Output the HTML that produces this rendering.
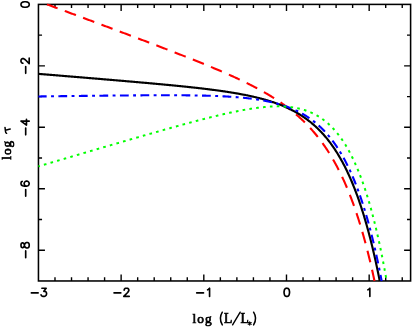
<!DOCTYPE html>
<html><head><meta charset="utf-8"><style>
html,body{margin:0;padding:0;background:#fff;}
svg{display:block}
.al{font-family:"Liberation Serif",serif;font-size:13.3px;fill:#000;stroke:#000;stroke-width:0.7px}
.cap{font-size:14.6px}
.al,.al text{filter:grayscale(1)}
</style></head><body>
<svg width="412" height="327" viewBox="0 0 412 327">
<rect width="412" height="327" fill="#fff"/>
<rect x="38.45" y="4.4" width="372.15000000000003" height="276.57" fill="none" stroke="#000" stroke-width="1.55"/>
<path d="M54.99,280.97 v-3.6 M54.99,4.40 v3.6 M71.52,280.97 v-3.6 M71.52,4.40 v3.6 M88.06,280.97 v-3.6 M88.06,4.40 v3.6 M104.59,280.97 v-3.6 M104.59,4.40 v3.6 M121.13,280.97 v-6.5 M121.13,4.40 v6.5 M137.67,280.97 v-3.6 M137.67,4.40 v3.6 M154.20,280.97 v-3.6 M154.20,4.40 v3.6 M170.74,280.97 v-3.6 M170.74,4.40 v3.6 M187.27,280.97 v-3.6 M187.27,4.40 v3.6 M203.81,280.97 v-6.5 M203.81,4.40 v6.5 M220.35,280.97 v-3.6 M220.35,4.40 v3.6 M236.88,280.97 v-3.6 M236.88,4.40 v3.6 M253.42,280.97 v-3.6 M253.42,4.40 v3.6 M269.95,280.97 v-3.6 M269.95,4.40 v3.6 M286.49,280.97 v-6.5 M286.49,4.40 v6.5 M303.03,280.97 v-3.6 M303.03,4.40 v3.6 M319.56,280.97 v-3.6 M319.56,4.40 v3.6 M336.10,280.97 v-3.6 M336.10,4.40 v3.6 M352.63,280.97 v-3.6 M352.63,4.40 v3.6 M369.17,280.97 v-6.5 M369.17,4.40 v6.5 M385.71,280.97 v-3.6 M385.71,4.40 v3.6 M402.24,280.97 v-3.6 M402.24,4.40 v3.6 M38.45,35.13 h3.6 M410.60,35.13 h-3.6 M38.45,65.86 h6.5 M410.60,65.86 h-6.5 M38.45,96.59 h3.6 M410.60,96.59 h-3.6 M38.45,127.32 h6.5 M410.60,127.32 h-6.5 M38.45,158.05 h3.6 M410.60,158.05 h-3.6 M38.45,188.78 h6.5 M410.60,188.78 h-6.5 M38.45,219.51 h3.6 M410.60,219.51 h-3.6 M38.45,250.24 h6.5 M410.60,250.24 h-6.5" stroke="#000" stroke-width="1.4" fill="none"/>
<g fill="none" stroke-width="2.1" stroke-linecap="butt" stroke-linejoin="round">
<path d="M47.09,4.40 L47.13,4.42 L47.75,4.65 L48.37,4.88 L48.99,5.11 L49.61,5.34 L50.23,5.57 L50.85,5.80 L51.47,6.03 L52.09,6.26 L52.71,6.49 L53.33,6.72 L53.95,6.96 L54.57,7.19 L55.19,7.42 L55.81,7.65 L56.43,7.88 L57.05,8.11 L57.67,8.34 L58.29,8.57 L58.91,8.80 L59.53,9.03 L60.15,9.26 L60.77,9.50 L61.39,9.73 L62.01,9.96 L62.63,10.19 L63.25,10.42 L63.87,10.65 L64.49,10.88 L65.11,11.11 L65.73,11.34 L66.35,11.57 L66.97,11.80 L67.59,12.04 L68.21,12.27 L68.83,12.50 L69.46,12.73 L70.08,12.96 L70.70,13.19 L71.32,13.42 L71.94,13.65 L72.56,13.88 L73.18,14.12 L73.80,14.35 L74.42,14.58 L75.04,14.81 L75.66,15.04 L76.28,15.27 L76.90,15.50 L77.52,15.73 L78.14,15.96 L78.76,16.20 L79.38,16.43 L80.00,16.66 L80.62,16.89 L81.24,17.12 L81.86,17.35 L82.48,17.58 L83.10,17.81 L83.72,18.05 L84.34,18.28 L84.96,18.51 L85.58,18.74 L86.20,18.97 L86.82,19.20 L87.44,19.43 L88.06,19.66 L88.68,19.90 L89.30,20.13 L89.92,20.36 L90.54,20.59 L91.16,20.82 L91.78,21.05 L92.40,21.28 L93.02,21.52 L93.64,21.75 L94.26,21.98 L94.88,22.21 L95.50,22.44 L96.12,22.67 L96.74,22.91 L97.36,23.14 L97.98,23.37 L98.60,23.60 L99.22,23.83 L99.84,24.06 L100.46,24.30 L101.08,24.53 L101.70,24.76 L102.32,24.99 L102.94,25.22 L103.56,25.46 L104.18,25.69 L104.80,25.92 L105.42,26.15 L106.04,26.38 L106.66,26.61 L107.28,26.85 L107.90,27.08 L108.52,27.31 L109.14,27.54 L109.76,27.78 L110.38,28.01 L111.00,28.24 L111.62,28.47 L112.24,28.70 L112.86,28.94 L113.48,29.17 L114.10,29.40 L114.72,29.63 L115.34,29.87 L115.96,30.10 L116.58,30.33 L117.20,30.56 L117.82,30.80 L118.44,31.03 L119.06,31.26 L119.68,31.49 L120.30,31.73 L120.92,31.96 L121.54,32.19 L122.16,32.42 L122.78,32.66 L123.40,32.89 L124.02,33.12 L124.64,33.36 L125.26,33.59 L125.88,33.82 L126.50,34.06 L127.12,34.29 L127.74,34.52 L128.36,34.76 L128.98,34.99 L129.60,35.22 L130.22,35.46 L130.84,35.69 L131.47,35.92 L132.09,36.16 L132.71,36.39 L133.33,36.62 L133.95,36.86 L134.57,37.09 L135.19,37.32 L135.81,37.56 L136.43,37.79 L137.05,38.03 L137.67,38.26 L138.29,38.50 L138.91,38.73 L139.53,38.96 L140.15,39.20 L140.77,39.43 L141.39,39.67 L142.01,39.90 L142.63,40.14 L143.25,40.37 L143.87,40.61 L144.49,40.84 L145.11,41.08 L145.73,41.31 L146.35,41.55 L146.97,41.78 L147.59,42.02 L148.21,42.25 L148.83,42.49 L149.45,42.72 L150.07,42.96 L150.69,43.19 L151.31,43.43 L151.93,43.66 L152.55,43.90 L153.17,44.14 L153.79,44.37 L154.41,44.61 L155.03,44.85 L155.65,45.08 L156.27,45.32 L156.89,45.56 L157.51,45.79 L158.13,46.03 L158.75,46.27 L159.37,46.50 L159.99,46.74 L160.61,46.98 L161.23,47.22 L161.85,47.45 L162.47,47.69 L163.09,47.93 L163.71,48.17 L164.33,48.40 L164.95,48.64 L165.57,48.88 L166.19,49.12 L166.81,49.36 L167.43,49.60 L168.05,49.84 L168.67,50.07 L169.29,50.31 L169.91,50.55 L170.53,50.79 L171.15,51.03 L171.77,51.27 L172.39,51.51 L173.01,51.75 L173.63,51.99 L174.25,52.23 L174.87,52.47 L175.49,52.71 L176.11,52.96 L176.73,53.20 L177.35,53.44 L177.97,53.68 L178.59,53.92 L179.21,54.16 L179.83,54.41 L180.45,54.65 L181.07,54.89 L181.69,55.13 L182.31,55.38 L182.93,55.62 L183.55,55.86 L184.17,56.11 L184.79,56.35 L185.41,56.60 L186.03,56.84 L186.65,57.08 L187.27,57.33 L187.89,57.57 L188.51,57.82 L189.13,58.07 L189.75,58.31 L190.37,58.56 L190.99,58.80 L191.61,59.05 L192.23,59.30 L192.85,59.55 L193.48,59.79 L194.10,60.04 L194.72,60.29 L195.34,60.54 L195.96,60.79 L196.58,61.04 L197.20,61.29 L197.82,61.53 L198.44,61.78 L199.06,62.04 L199.68,62.29 L200.30,62.54 L200.92,62.79 L201.54,63.04 L202.16,63.29 L202.78,63.55 L203.40,63.80 L204.02,64.05 L204.64,64.31 L205.26,64.56 L205.88,64.82 L206.50,65.07 L207.12,65.33 L207.74,65.58 L208.36,65.84 L208.98,66.10 L209.60,66.35 L210.22,66.61 L210.84,66.87 L211.46,67.13 L212.08,67.39 L212.70,67.65 L213.32,67.91 L213.94,68.17 L214.56,68.43 L215.18,68.69 L215.80,68.95 L216.42,69.22 L217.04,69.48 L217.66,69.74 L218.28,70.01 L218.90,70.27 L219.52,70.54 L220.14,70.81 L220.76,71.07 L221.38,71.34 L222.00,71.61 L222.62,71.88 L223.24,72.15 L223.86,72.42 L224.48,72.69 L225.10,72.96 L225.72,73.23 L226.34,73.51 L226.96,73.78 L227.58,74.06 L228.20,74.33 L228.82,74.61 L229.44,74.88 L230.06,75.16 L230.68,75.44 L231.30,75.72 L231.92,76.00 L232.54,76.28 L233.16,76.56 L233.78,76.85 L234.40,77.13 L235.02,77.42 L235.64,77.70 L236.26,77.99 L236.88,78.28 L237.50,78.57 L238.12,78.86 L238.74,79.15 L239.36,79.44 L239.98,79.73 L240.60,80.03 L241.22,80.32 L241.84,80.62 L242.46,80.92 L243.08,81.21 L243.70,81.51 L244.32,81.82 L244.94,82.12 L245.56,82.42 L246.18,82.73 L246.80,83.03 L247.42,83.34 L248.04,83.65 L248.66,83.96 L249.28,84.27 L249.90,84.58 L250.52,84.90 L251.14,85.21 L251.76,85.53 L252.38,85.85 L253.00,86.17 L253.62,86.49 L254.24,86.82 L254.86,87.14 L255.49,87.47 L256.11,87.80 L256.73,88.13 L257.35,88.46 L257.97,88.79 L258.59,89.13 L259.21,89.46 L259.83,89.80 L260.45,90.15 L261.07,90.49 L261.69,90.83 L262.31,91.18 L262.93,91.53 L263.55,91.88 L264.17,92.23 L264.79,92.59 L265.41,92.95 L266.03,93.31 L266.65,93.67 L267.27,94.03 L267.89,94.40 L268.51,94.77 L269.13,95.14 L269.75,95.51 L270.37,95.89 L270.99,96.27 L271.61,96.65 L272.23,97.03 L272.85,97.42 L273.47,97.81 L274.09,98.20 L274.71,98.60 L275.33,99.00 L275.95,99.40 L276.57,99.80 L277.19,100.21 L277.81,100.62 L278.43,101.03 L279.05,101.45 L279.67,101.87 L280.29,102.29 L280.91,102.71 L281.53,103.14 L282.15,103.58 L282.77,104.01 L283.39,104.45 L284.01,104.90 L284.63,105.34 L285.25,105.80 L285.87,106.25 L286.49,106.71 L287.11,107.17 L287.73,107.64 L288.35,108.11 L288.97,108.59 L289.59,109.07 L290.21,109.55 L290.83,110.04 L291.45,110.53 L292.07,111.03 L292.69,111.53 L293.31,112.04 L293.93,112.55 L294.55,113.06 L295.17,113.59 L295.79,114.11 L296.41,114.64 L297.03,115.18 L297.65,115.72 L298.27,116.27 L298.89,116.82 L299.51,117.38 L300.13,117.95 L300.75,118.52 L301.37,119.09 L301.99,119.68 L302.61,120.27 L303.23,120.86 L303.85,121.46 L304.47,122.07 L305.09,122.68 L305.71,123.30 L306.33,123.93 L306.95,124.57 L307.57,125.21 L308.19,125.86 L308.81,126.51 L309.43,127.18 L310.05,127.85 L310.67,128.52 L311.29,129.21 L311.91,129.91 L312.53,130.61 L313.15,131.32 L313.77,132.04 L314.39,132.77 L315.01,133.50 L315.63,134.25 L316.25,135.00 L316.87,135.76 L317.50,136.54 L318.12,137.32 L318.74,138.11 L319.36,138.91 L319.98,139.72 L320.60,140.54 L321.22,141.37 L321.84,142.22 L322.46,143.07 L323.08,143.93 L323.70,144.81 L324.32,145.69 L324.94,146.59 L325.56,147.50 L326.18,148.42 L326.80,149.35 L327.42,150.30 L328.04,151.25 L328.66,152.22 L329.28,153.21 L329.90,154.20 L330.52,155.21 L331.14,156.23 L331.76,157.27 L332.38,158.32 L333.00,159.39 L333.62,160.46 L334.24,161.56 L334.86,162.67 L335.48,163.79 L336.10,164.93 L336.72,166.09 L337.34,167.26 L337.96,168.45 L338.58,169.65 L339.20,170.88 L339.82,172.12 L340.44,173.37 L341.06,174.65 L341.68,175.94 L342.30,177.25 L342.92,178.58 L343.54,179.93 L344.16,181.30 L344.78,182.69 L345.40,184.10 L346.02,185.53 L346.64,186.98 L347.26,188.45 L347.88,189.95 L348.50,191.46 L349.12,193.00 L349.74,194.56 L350.36,196.14 L350.98,197.75 L351.60,199.38 L352.22,201.04 L352.84,202.72 L353.46,204.42 L354.08,206.16 L354.70,207.91 L355.32,209.70 L355.94,211.51 L356.56,213.35 L357.18,215.21 L357.80,217.11 L358.42,219.03 L359.04,220.99 L359.66,222.97 L360.28,224.99 L360.90,227.03 L361.52,229.11 L362.14,231.22 L362.76,233.36 L363.38,235.54 L364.00,237.74 L364.62,239.99 L365.24,242.27 L365.86,244.58 L366.48,246.93 L367.10,249.32 L367.72,251.75 L368.34,254.21 L368.96,256.71 L369.58,259.25 L370.20,261.83 L370.82,264.46 L371.44,267.12 L372.06,269.83 L372.68,272.58 L373.30,275.37 L373.92,278.21 L374.52,280.97" stroke="#ff0000" stroke-dasharray="11.9,7.665" stroke-dashoffset="0.7"/>
<path d="M38.45,73.86 L39.07,73.91 L39.69,73.97 L40.31,74.02 L40.93,74.07 L41.55,74.12 L42.17,74.17 L42.79,74.22 L43.41,74.27 L44.03,74.32 L44.65,74.37 L45.27,74.42 L45.89,74.47 L46.51,74.53 L47.13,74.58 L47.75,74.63 L48.37,74.68 L48.99,74.73 L49.61,74.78 L50.23,74.83 L50.85,74.88 L51.47,74.93 L52.09,74.98 L52.71,75.04 L53.33,75.09 L53.95,75.14 L54.57,75.19 L55.19,75.24 L55.81,75.29 L56.43,75.34 L57.05,75.39 L57.67,75.44 L58.29,75.50 L58.91,75.55 L59.53,75.60 L60.15,75.65 L60.77,75.70 L61.39,75.75 L62.01,75.80 L62.63,75.85 L63.25,75.90 L63.87,75.96 L64.49,76.01 L65.11,76.06 L65.73,76.11 L66.35,76.16 L66.97,76.21 L67.59,76.26 L68.21,76.31 L68.83,76.37 L69.46,76.42 L70.08,76.47 L70.70,76.52 L71.32,76.57 L71.94,76.62 L72.56,76.67 L73.18,76.72 L73.80,76.78 L74.42,76.83 L75.04,76.88 L75.66,76.93 L76.28,76.98 L76.90,77.03 L77.52,77.08 L78.14,77.14 L78.76,77.19 L79.38,77.24 L80.00,77.29 L80.62,77.34 L81.24,77.39 L81.86,77.44 L82.48,77.50 L83.10,77.55 L83.72,77.60 L84.34,77.65 L84.96,77.70 L85.58,77.75 L86.20,77.80 L86.82,77.86 L87.44,77.91 L88.06,77.96 L88.68,78.01 L89.30,78.06 L89.92,78.11 L90.54,78.17 L91.16,78.22 L91.78,78.27 L92.40,78.32 L93.02,78.37 L93.64,78.42 L94.26,78.48 L94.88,78.53 L95.50,78.58 L96.12,78.63 L96.74,78.68 L97.36,78.74 L97.98,78.79 L98.60,78.84 L99.22,78.89 L99.84,78.94 L100.46,79.00 L101.08,79.05 L101.70,79.10 L102.32,79.15 L102.94,79.20 L103.56,79.26 L104.18,79.31 L104.80,79.36 L105.42,79.41 L106.04,79.46 L106.66,79.52 L107.28,79.57 L107.90,79.62 L108.52,79.67 L109.14,79.73 L109.76,79.78 L110.38,79.83 L111.00,79.88 L111.62,79.94 L112.24,79.99 L112.86,80.04 L113.48,80.09 L114.10,80.15 L114.72,80.20 L115.34,80.25 L115.96,80.30 L116.58,80.36 L117.20,80.41 L117.82,80.46 L118.44,80.51 L119.06,80.57 L119.68,80.62 L120.30,80.67 L120.92,80.73 L121.54,80.78 L122.16,80.83 L122.78,80.89 L123.40,80.94 L124.02,80.99 L124.64,81.04 L125.26,81.10 L125.88,81.15 L126.50,81.20 L127.12,81.26 L127.74,81.31 L128.36,81.37 L128.98,81.42 L129.60,81.47 L130.22,81.53 L130.84,81.58 L131.47,81.63 L132.09,81.69 L132.71,81.74 L133.33,81.80 L133.95,81.85 L134.57,81.90 L135.19,81.96 L135.81,82.01 L136.43,82.07 L137.05,82.12 L137.67,82.17 L138.29,82.23 L138.91,82.28 L139.53,82.34 L140.15,82.39 L140.77,82.45 L141.39,82.50 L142.01,82.56 L142.63,82.61 L143.25,82.67 L143.87,82.72 L144.49,82.78 L145.11,82.83 L145.73,82.89 L146.35,82.94 L146.97,83.00 L147.59,83.05 L148.21,83.11 L148.83,83.16 L149.45,83.22 L150.07,83.28 L150.69,83.33 L151.31,83.39 L151.93,83.44 L152.55,83.50 L153.17,83.56 L153.79,83.61 L154.41,83.67 L155.03,83.73 L155.65,83.78 L156.27,83.84 L156.89,83.90 L157.51,83.95 L158.13,84.01 L158.75,84.07 L159.37,84.12 L159.99,84.18 L160.61,84.24 L161.23,84.30 L161.85,84.35 L162.47,84.41 L163.09,84.47 L163.71,84.53 L164.33,84.59 L164.95,84.65 L165.57,84.70 L166.19,84.76 L166.81,84.82 L167.43,84.88 L168.05,84.94 L168.67,85.00 L169.29,85.06 L169.91,85.12 L170.53,85.18 L171.15,85.24 L171.77,85.30 L172.39,85.36 L173.01,85.42 L173.63,85.48 L174.25,85.54 L174.87,85.60 L175.49,85.66 L176.11,85.72 L176.73,85.78 L177.35,85.85 L177.97,85.91 L178.59,85.97 L179.21,86.03 L179.83,86.09 L180.45,86.16 L181.07,86.22 L181.69,86.28 L182.31,86.35 L182.93,86.41 L183.55,86.47 L184.17,86.54 L184.79,86.60 L185.41,86.67 L186.03,86.73 L186.65,86.80 L187.27,86.86 L187.89,86.93 L188.51,86.99 L189.13,87.06 L189.75,87.12 L190.37,87.19 L190.99,87.26 L191.61,87.32 L192.23,87.39 L192.85,87.46 L193.48,87.53 L194.10,87.59 L194.72,87.66 L195.34,87.73 L195.96,87.80 L196.58,87.87 L197.20,87.94 L197.82,88.01 L198.44,88.08 L199.06,88.15 L199.68,88.22 L200.30,88.29 L200.92,88.37 L201.54,88.44 L202.16,88.51 L202.78,88.58 L203.40,88.66 L204.02,88.73 L204.64,88.80 L205.26,88.88 L205.88,88.95 L206.50,89.03 L207.12,89.10 L207.74,89.18 L208.36,89.26 L208.98,89.33 L209.60,89.41 L210.22,89.49 L210.84,89.57 L211.46,89.65 L212.08,89.73 L212.70,89.81 L213.32,89.89 L213.94,89.97 L214.56,90.05 L215.18,90.13 L215.80,90.21 L216.42,90.30 L217.04,90.38 L217.66,90.47 L218.28,90.55 L218.90,90.64 L219.52,90.72 L220.14,90.81 L220.76,90.90 L221.38,90.98 L222.00,91.07 L222.62,91.16 L223.24,91.25 L223.86,91.34 L224.48,91.43 L225.10,91.53 L225.72,91.62 L226.34,91.71 L226.96,91.81 L227.58,91.90 L228.20,92.00 L228.82,92.09 L229.44,92.19 L230.06,92.29 L230.68,92.39 L231.30,92.49 L231.92,92.59 L232.54,92.69 L233.16,92.79 L233.78,92.90 L234.40,93.00 L235.02,93.11 L235.64,93.21 L236.26,93.32 L236.88,93.43 L237.50,93.54 L238.12,93.65 L238.74,93.76 L239.36,93.87 L239.98,93.98 L240.60,94.10 L241.22,94.21 L241.84,94.33 L242.46,94.45 L243.08,94.57 L243.70,94.69 L244.32,94.81 L244.94,94.93 L245.56,95.05 L246.18,95.18 L246.80,95.31 L247.42,95.43 L248.04,95.56 L248.66,95.69 L249.28,95.82 L249.90,95.96 L250.52,96.09 L251.14,96.23 L251.76,96.37 L252.38,96.51 L253.00,96.65 L253.62,96.79 L254.24,96.93 L254.86,97.08 L255.49,97.22 L256.11,97.37 L256.73,97.52 L257.35,97.68 L257.97,97.83 L258.59,97.99 L259.21,98.14 L259.83,98.30 L260.45,98.46 L261.07,98.63 L261.69,98.79 L262.31,98.96 L262.93,99.13 L263.55,99.30 L264.17,99.47 L264.79,99.65 L265.41,99.83 L266.03,100.01 L266.65,100.19 L267.27,100.37 L267.89,100.56 L268.51,100.75 L269.13,100.94 L269.75,101.14 L270.37,101.33 L270.99,101.53 L271.61,101.73 L272.23,101.94 L272.85,102.14 L273.47,102.35 L274.09,102.57 L274.71,102.78 L275.33,103.00 L275.95,103.22 L276.57,103.44 L277.19,103.67 L277.81,103.90 L278.43,104.13 L279.05,104.37 L279.67,104.61 L280.29,104.85 L280.91,105.10 L281.53,105.35 L282.15,105.60 L282.77,105.86 L283.39,106.12 L284.01,106.38 L284.63,106.65 L285.25,106.92 L285.87,107.20 L286.49,107.48 L287.11,107.76 L287.73,108.05 L288.35,108.34 L288.97,108.63 L289.59,108.93 L290.21,109.24 L290.83,109.55 L291.45,109.86 L292.07,110.18 L292.69,110.50 L293.31,110.83 L293.93,111.16 L294.55,111.50 L295.17,111.84 L295.79,112.18 L296.41,112.54 L297.03,112.89 L297.65,113.26 L298.27,113.62 L298.89,114.00 L299.51,114.38 L300.13,114.76 L300.75,115.15 L301.37,115.55 L301.99,115.95 L302.61,116.36 L303.23,116.77 L303.85,117.20 L304.47,117.62 L305.09,118.06 L305.71,118.50 L306.33,118.95 L306.95,119.40 L307.57,119.86 L308.19,120.33 L308.81,120.81 L309.43,121.29 L310.05,121.78 L310.67,122.28 L311.29,122.79 L311.91,123.30 L312.53,123.83 L313.15,124.36 L313.77,124.90 L314.39,125.44 L315.01,126.00 L315.63,126.57 L316.25,127.14 L316.87,127.72 L317.50,128.32 L318.12,128.92 L318.74,129.53 L319.36,130.15 L319.98,130.78 L320.60,131.42 L321.22,132.07 L321.84,132.74 L322.46,133.41 L323.08,134.09 L323.70,134.79 L324.32,135.49 L324.94,136.21 L325.56,136.94 L326.18,137.68 L326.80,138.43 L327.42,139.20 L328.04,139.98 L328.66,140.77 L329.28,141.57 L329.90,142.39 L330.52,143.21 L331.14,144.06 L331.76,144.91 L332.38,145.79 L333.00,146.67 L333.62,147.57 L334.24,148.48 L334.86,149.41 L335.48,150.36 L336.10,151.32 L336.72,152.30 L337.34,153.29 L337.96,154.30 L338.58,155.32 L339.20,156.36 L339.82,157.42 L340.44,158.50 L341.06,159.60 L341.68,160.71 L342.30,161.84 L342.92,162.99 L343.54,164.16 L344.16,165.35 L344.78,166.56 L345.40,167.79 L346.02,169.04 L346.64,170.31 L347.26,171.60 L347.88,172.92 L348.50,174.25 L349.12,175.61 L349.74,176.99 L350.36,178.40 L350.98,179.82 L351.60,181.27 L352.22,182.75 L352.84,184.25 L353.46,185.78 L354.08,187.33 L354.70,188.91 L355.32,190.51 L355.94,192.14 L356.56,193.80 L357.18,195.49 L357.80,197.20 L358.42,198.95 L359.04,200.72 L359.66,202.53 L360.28,204.36 L360.90,206.23 L361.52,208.12 L362.14,210.05 L362.76,212.02 L363.38,214.01 L364.00,216.04 L364.62,218.11 L365.24,220.20 L365.86,222.34 L366.48,224.51 L367.10,226.72 L367.72,228.96 L368.34,231.25 L368.96,233.57 L369.58,235.93 L370.20,238.33 L370.82,240.78 L371.44,243.26 L372.06,245.79 L372.68,248.36 L373.30,250.98 L373.92,253.63 L374.54,256.34 L375.16,259.09 L375.78,261.89 L376.40,264.73 L377.02,267.63 L377.64,270.57 L378.26,273.57 L378.88,276.61 L379.50,279.71 L379.75,280.97" stroke="#000" stroke-width="2.15"/>
<path d="M38.45,96.45 L39.07,96.44 L39.69,96.43 L40.31,96.43 L40.93,96.42 L41.55,96.41 L42.17,96.40 L42.79,96.39 L43.41,96.39 L44.03,96.38 L44.65,96.37 L45.27,96.36 L45.89,96.36 L46.51,96.35 L47.13,96.34 L47.75,96.33 L48.37,96.32 L48.99,96.32 L49.61,96.31 L50.23,96.30 L50.85,96.29 L51.47,96.29 L52.09,96.28 L52.71,96.27 L53.33,96.26 L53.95,96.26 L54.57,96.25 L55.19,96.24 L55.81,96.23 L56.43,96.22 L57.05,96.22 L57.67,96.21 L58.29,96.20 L58.91,96.19 L59.53,96.19 L60.15,96.18 L60.77,96.17 L61.39,96.16 L62.01,96.16 L62.63,96.15 L63.25,96.14 L63.87,96.13 L64.49,96.13 L65.11,96.12 L65.73,96.11 L66.35,96.10 L66.97,96.09 L67.59,96.09 L68.21,96.08 L68.83,96.07 L69.46,96.06 L70.08,96.06 L70.70,96.05 L71.32,96.04 L71.94,96.03 L72.56,96.03 L73.18,96.02 L73.80,96.01 L74.42,96.00 L75.04,96.00 L75.66,95.99 L76.28,95.98 L76.90,95.98 L77.52,95.97 L78.14,95.96 L78.76,95.95 L79.38,95.95 L80.00,95.94 L80.62,95.93 L81.24,95.92 L81.86,95.92 L82.48,95.91 L83.10,95.90 L83.72,95.89 L84.34,95.89 L84.96,95.88 L85.58,95.87 L86.20,95.87 L86.82,95.86 L87.44,95.85 L88.06,95.84 L88.68,95.84 L89.30,95.83 L89.92,95.82 L90.54,95.82 L91.16,95.81 L91.78,95.80 L92.40,95.79 L93.02,95.79 L93.64,95.78 L94.26,95.77 L94.88,95.77 L95.50,95.76 L96.12,95.75 L96.74,95.75 L97.36,95.74 L97.98,95.73 L98.60,95.73 L99.22,95.72 L99.84,95.71 L100.46,95.70 L101.08,95.70 L101.70,95.69 L102.32,95.68 L102.94,95.68 L103.56,95.67 L104.18,95.66 L104.80,95.66 L105.42,95.65 L106.04,95.64 L106.66,95.64 L107.28,95.63 L107.90,95.63 L108.52,95.62 L109.14,95.61 L109.76,95.61 L110.38,95.60 L111.00,95.59 L111.62,95.59 L112.24,95.58 L112.86,95.57 L113.48,95.57 L114.10,95.56 L114.72,95.56 L115.34,95.55 L115.96,95.54 L116.58,95.54 L117.20,95.53 L117.82,95.53 L118.44,95.52 L119.06,95.51 L119.68,95.51 L120.30,95.50 L120.92,95.50 L121.54,95.49 L122.16,95.48 L122.78,95.48 L123.40,95.47 L124.02,95.47 L124.64,95.46 L125.26,95.46 L125.88,95.45 L126.50,95.45 L127.12,95.44 L127.74,95.44 L128.36,95.43 L128.98,95.42 L129.60,95.42 L130.22,95.41 L130.84,95.41 L131.47,95.40 L132.09,95.40 L132.71,95.39 L133.33,95.39 L133.95,95.38 L134.57,95.38 L135.19,95.38 L135.81,95.37 L136.43,95.37 L137.05,95.36 L137.67,95.36 L138.29,95.35 L138.91,95.35 L139.53,95.34 L140.15,95.34 L140.77,95.34 L141.39,95.33 L142.01,95.33 L142.63,95.32 L143.25,95.32 L143.87,95.32 L144.49,95.31 L145.11,95.31 L145.73,95.31 L146.35,95.30 L146.97,95.30 L147.59,95.30 L148.21,95.29 L148.83,95.29 L149.45,95.29 L150.07,95.28 L150.69,95.28 L151.31,95.28 L151.93,95.27 L152.55,95.27 L153.17,95.27 L153.79,95.27 L154.41,95.27 L155.03,95.26 L155.65,95.26 L156.27,95.26 L156.89,95.26 L157.51,95.26 L158.13,95.25 L158.75,95.25 L159.37,95.25 L159.99,95.25 L160.61,95.25 L161.23,95.25 L161.85,95.25 L162.47,95.25 L163.09,95.24 L163.71,95.24 L164.33,95.24 L164.95,95.24 L165.57,95.24 L166.19,95.24 L166.81,95.24 L167.43,95.24 L168.05,95.24 L168.67,95.24 L169.29,95.24 L169.91,95.25 L170.53,95.25 L171.15,95.25 L171.77,95.25 L172.39,95.25 L173.01,95.25 L173.63,95.25 L174.25,95.26 L174.87,95.26 L175.49,95.26 L176.11,95.26 L176.73,95.27 L177.35,95.27 L177.97,95.27 L178.59,95.27 L179.21,95.28 L179.83,95.28 L180.45,95.29 L181.07,95.29 L181.69,95.29 L182.31,95.30 L182.93,95.30 L183.55,95.31 L184.17,95.31 L184.79,95.32 L185.41,95.32 L186.03,95.33 L186.65,95.34 L187.27,95.34 L187.89,95.35 L188.51,95.36 L189.13,95.36 L189.75,95.37 L190.37,95.38 L190.99,95.39 L191.61,95.39 L192.23,95.40 L192.85,95.41 L193.48,95.42 L194.10,95.43 L194.72,95.44 L195.34,95.45 L195.96,95.46 L196.58,95.47 L197.20,95.48 L197.82,95.49 L198.44,95.50 L199.06,95.52 L199.68,95.53 L200.30,95.54 L200.92,95.55 L201.54,95.57 L202.16,95.58 L202.78,95.60 L203.40,95.61 L204.02,95.62 L204.64,95.64 L205.26,95.66 L205.88,95.67 L206.50,95.69 L207.12,95.71 L207.74,95.72 L208.36,95.74 L208.98,95.76 L209.60,95.78 L210.22,95.80 L210.84,95.82 L211.46,95.84 L212.08,95.86 L212.70,95.88 L213.32,95.90 L213.94,95.92 L214.56,95.95 L215.18,95.97 L215.80,95.99 L216.42,96.02 L217.04,96.04 L217.66,96.07 L218.28,96.09 L218.90,96.12 L219.52,96.15 L220.14,96.18 L220.76,96.20 L221.38,96.23 L222.00,96.26 L222.62,96.29 L223.24,96.33 L223.86,96.36 L224.48,96.39 L225.10,96.42 L225.72,96.46 L226.34,96.49 L226.96,96.53 L227.58,96.56 L228.20,96.60 L228.82,96.64 L229.44,96.68 L230.06,96.72 L230.68,96.76 L231.30,96.80 L231.92,96.84 L232.54,96.88 L233.16,96.93 L233.78,96.97 L234.40,97.02 L235.02,97.06 L235.64,97.11 L236.26,97.16 L236.88,97.21 L237.50,97.26 L238.12,97.31 L238.74,97.36 L239.36,97.41 L239.98,97.47 L240.60,97.52 L241.22,97.58 L241.84,97.64 L242.46,97.70 L243.08,97.76 L243.70,97.82 L244.32,97.88 L244.94,97.95 L245.56,98.01 L246.18,98.08 L246.80,98.15 L247.42,98.21 L248.04,98.28 L248.66,98.36 L249.28,98.43 L249.90,98.50 L250.52,98.58 L251.14,98.66 L251.76,98.74 L252.38,98.82 L253.00,98.90 L253.62,98.98 L254.24,99.07 L254.86,99.15 L255.49,99.24 L256.11,99.33 L256.73,99.42 L257.35,99.52 L257.97,99.61 L258.59,99.71 L259.21,99.81 L259.83,99.91 L260.45,100.01 L261.07,100.11 L261.69,100.22 L262.31,100.33 L262.93,100.44 L263.55,100.55 L264.17,100.67 L264.79,100.78 L265.41,100.90 L266.03,101.02 L266.65,101.15 L267.27,101.27 L267.89,101.40 L268.51,101.53 L269.13,101.66 L269.75,101.80 L270.37,101.94 L270.99,102.08 L271.61,102.22 L272.23,102.37 L272.85,102.51 L273.47,102.67 L274.09,102.82 L274.71,102.98 L275.33,103.14 L275.95,103.30 L276.57,103.46 L277.19,103.63 L277.81,103.80 L278.43,103.98 L279.05,104.15 L279.67,104.34 L280.29,104.52 L280.91,104.71 L281.53,104.90 L282.15,105.09 L282.77,105.29 L283.39,105.49 L284.01,105.70 L284.63,105.91 L285.25,106.12 L285.87,106.34 L286.49,106.56 L287.11,106.78 L287.73,107.01 L288.35,107.24 L288.97,107.48 L289.59,107.72 L290.21,107.96 L290.83,108.21 L291.45,108.47 L292.07,108.73 L292.69,108.99 L293.31,109.26 L293.93,109.53 L294.55,109.81 L295.17,110.09 L295.79,110.38 L296.41,110.67 L297.03,110.97 L297.65,111.28 L298.27,111.59 L298.89,111.90 L299.51,112.22 L300.13,112.55 L300.75,112.88 L301.37,113.22 L301.99,113.56 L302.61,113.91 L303.23,114.27 L303.85,114.63 L304.47,115.00 L305.09,115.37 L305.71,115.76 L306.33,116.14 L306.95,116.54 L307.57,116.94 L308.19,117.35 L308.81,117.77 L309.43,118.20 L310.05,118.63 L310.67,119.07 L311.29,119.52 L311.91,119.97 L312.53,120.44 L313.15,120.91 L313.77,121.39 L314.39,121.88 L315.01,122.37 L315.63,122.88 L316.25,123.40 L316.87,123.92 L317.50,124.45 L318.12,125.00 L318.74,125.55 L319.36,126.11 L319.98,126.69 L320.60,127.27 L321.22,127.86 L321.84,128.47 L322.46,129.08 L323.08,129.70 L323.70,130.34 L324.32,130.99 L324.94,131.65 L325.56,132.32 L326.18,133.00 L326.80,133.69 L327.42,134.40 L328.04,135.12 L328.66,135.85 L329.28,136.59 L329.90,137.35 L330.52,138.12 L331.14,138.90 L331.76,139.70 L332.38,140.51 L333.00,141.34 L333.62,142.18 L334.24,143.04 L334.86,143.91 L335.48,144.79 L336.10,145.70 L336.72,146.61 L337.34,147.55 L337.96,148.50 L338.58,149.46 L339.20,150.45 L339.82,151.45 L340.44,152.47 L341.06,153.50 L341.68,154.56 L342.30,155.63 L342.92,156.72 L343.54,157.83 L344.16,158.96 L344.78,160.11 L345.40,161.29 L346.02,162.48 L346.64,163.69 L347.26,164.92 L347.88,166.18 L348.50,167.45 L349.12,168.75 L349.74,170.07 L350.36,171.42 L350.98,172.79 L351.60,174.18 L352.22,175.60 L352.84,177.04 L353.46,178.51 L354.08,180.00 L354.70,181.52 L355.32,183.07 L355.94,184.64 L356.56,186.24 L357.18,187.87 L357.80,189.52 L358.42,191.21 L359.04,192.92 L359.66,194.67 L360.28,196.45 L360.90,198.25 L361.52,200.09 L362.14,201.96 L362.76,203.87 L363.38,205.80 L364.00,207.77 L364.62,209.78 L365.24,211.82 L365.86,213.89 L366.48,216.01 L367.10,218.16 L367.72,220.34 L368.34,222.57 L368.96,224.83 L369.58,227.13 L370.20,229.48 L370.82,231.86 L371.44,234.29 L372.06,236.76 L372.68,239.27 L373.30,241.83 L373.92,244.43 L374.54,247.07 L375.16,249.76 L375.78,252.50 L376.40,255.29 L377.02,258.13 L377.64,261.01 L378.26,263.95 L378.88,266.93 L379.50,269.97 L380.13,273.06 L380.75,276.21 L381.37,279.41 L381.66,280.97" stroke="#0000ff" stroke-dasharray="8.8,4.41,2.9,4.41" stroke-dashoffset="0.6"/>
<path d="M38.45,166.36 L39.07,166.18 L39.69,166.00 L40.31,165.81 L40.93,165.63 L41.55,165.45 L42.17,165.27 L42.79,165.08 L43.41,164.90 L44.03,164.72 L44.65,164.54 L45.27,164.36 L45.89,164.17 L46.51,163.99 L47.13,163.81 L47.75,163.63 L48.37,163.44 L48.99,163.26 L49.61,163.08 L50.23,162.90 L50.85,162.72 L51.47,162.53 L52.09,162.35 L52.71,162.17 L53.33,161.99 L53.95,161.80 L54.57,161.62 L55.19,161.44 L55.81,161.26 L56.43,161.08 L57.05,160.89 L57.67,160.71 L58.29,160.53 L58.91,160.35 L59.53,160.16 L60.15,159.98 L60.77,159.80 L61.39,159.62 L62.01,159.44 L62.63,159.25 L63.25,159.07 L63.87,158.89 L64.49,158.71 L65.11,158.53 L65.73,158.34 L66.35,158.16 L66.97,157.98 L67.59,157.80 L68.21,157.62 L68.83,157.43 L69.46,157.25 L70.08,157.07 L70.70,156.89 L71.32,156.71 L71.94,156.52 L72.56,156.34 L73.18,156.16 L73.80,155.98 L74.42,155.80 L75.04,155.61 L75.66,155.43 L76.28,155.25 L76.90,155.07 L77.52,154.89 L78.14,154.71 L78.76,154.52 L79.38,154.34 L80.00,154.16 L80.62,153.98 L81.24,153.80 L81.86,153.61 L82.48,153.43 L83.10,153.25 L83.72,153.07 L84.34,152.89 L84.96,152.71 L85.58,152.52 L86.20,152.34 L86.82,152.16 L87.44,151.98 L88.06,151.80 L88.68,151.62 L89.30,151.43 L89.92,151.25 L90.54,151.07 L91.16,150.89 L91.78,150.71 L92.40,150.53 L93.02,150.34 L93.64,150.16 L94.26,149.98 L94.88,149.80 L95.50,149.62 L96.12,149.44 L96.74,149.26 L97.36,149.08 L97.98,148.89 L98.60,148.71 L99.22,148.53 L99.84,148.35 L100.46,148.17 L101.08,147.99 L101.70,147.81 L102.32,147.62 L102.94,147.44 L103.56,147.26 L104.18,147.08 L104.80,146.90 L105.42,146.72 L106.04,146.54 L106.66,146.36 L107.28,146.18 L107.90,146.00 L108.52,145.81 L109.14,145.63 L109.76,145.45 L110.38,145.27 L111.00,145.09 L111.62,144.91 L112.24,144.73 L112.86,144.55 L113.48,144.37 L114.10,144.19 L114.72,144.01 L115.34,143.83 L115.96,143.65 L116.58,143.47 L117.20,143.28 L117.82,143.10 L118.44,142.92 L119.06,142.74 L119.68,142.56 L120.30,142.38 L120.92,142.20 L121.54,142.02 L122.16,141.84 L122.78,141.66 L123.40,141.48 L124.02,141.30 L124.64,141.12 L125.26,140.94 L125.88,140.76 L126.50,140.58 L127.12,140.40 L127.74,140.22 L128.36,140.04 L128.98,139.86 L129.60,139.68 L130.22,139.50 L130.84,139.32 L131.47,139.14 L132.09,138.97 L132.71,138.79 L133.33,138.61 L133.95,138.43 L134.57,138.25 L135.19,138.07 L135.81,137.89 L136.43,137.71 L137.05,137.53 L137.67,137.35 L138.29,137.17 L138.91,137.00 L139.53,136.82 L140.15,136.64 L140.77,136.46 L141.39,136.28 L142.01,136.10 L142.63,135.92 L143.25,135.75 L143.87,135.57 L144.49,135.39 L145.11,135.21 L145.73,135.03 L146.35,134.86 L146.97,134.68 L147.59,134.50 L148.21,134.32 L148.83,134.14 L149.45,133.97 L150.07,133.79 L150.69,133.61 L151.31,133.43 L151.93,133.26 L152.55,133.08 L153.17,132.90 L153.79,132.73 L154.41,132.55 L155.03,132.37 L155.65,132.20 L156.27,132.02 L156.89,131.84 L157.51,131.67 L158.13,131.49 L158.75,131.32 L159.37,131.14 L159.99,130.96 L160.61,130.79 L161.23,130.61 L161.85,130.44 L162.47,130.26 L163.09,130.09 L163.71,129.91 L164.33,129.74 L164.95,129.56 L165.57,129.39 L166.19,129.21 L166.81,129.04 L167.43,128.86 L168.05,128.69 L168.67,128.52 L169.29,128.34 L169.91,128.17 L170.53,128.00 L171.15,127.82 L171.77,127.65 L172.39,127.48 L173.01,127.30 L173.63,127.13 L174.25,126.96 L174.87,126.79 L175.49,126.61 L176.11,126.44 L176.73,126.27 L177.35,126.10 L177.97,125.93 L178.59,125.76 L179.21,125.58 L179.83,125.41 L180.45,125.24 L181.07,125.07 L181.69,124.90 L182.31,124.73 L182.93,124.56 L183.55,124.39 L184.17,124.22 L184.79,124.05 L185.41,123.89 L186.03,123.72 L186.65,123.55 L187.27,123.38 L187.89,123.21 L188.51,123.05 L189.13,122.88 L189.75,122.71 L190.37,122.54 L190.99,122.38 L191.61,122.21 L192.23,122.04 L192.85,121.88 L193.48,121.71 L194.10,121.55 L194.72,121.38 L195.34,121.22 L195.96,121.06 L196.58,120.89 L197.20,120.73 L197.82,120.56 L198.44,120.40 L199.06,120.24 L199.68,120.08 L200.30,119.92 L200.92,119.75 L201.54,119.59 L202.16,119.43 L202.78,119.27 L203.40,119.11 L204.02,118.95 L204.64,118.79 L205.26,118.63 L205.88,118.48 L206.50,118.32 L207.12,118.16 L207.74,118.00 L208.36,117.85 L208.98,117.69 L209.60,117.54 L210.22,117.38 L210.84,117.23 L211.46,117.07 L212.08,116.92 L212.70,116.76 L213.32,116.61 L213.94,116.46 L214.56,116.31 L215.18,116.16 L215.80,116.01 L216.42,115.86 L217.04,115.71 L217.66,115.56 L218.28,115.41 L218.90,115.26 L219.52,115.11 L220.14,114.97 L220.76,114.82 L221.38,114.68 L222.00,114.53 L222.62,114.39 L223.24,114.24 L223.86,114.10 L224.48,113.96 L225.10,113.82 L225.72,113.68 L226.34,113.54 L226.96,113.40 L227.58,113.26 L228.20,113.12 L228.82,112.99 L229.44,112.85 L230.06,112.72 L230.68,112.58 L231.30,112.45 L231.92,112.32 L232.54,112.18 L233.16,112.05 L233.78,111.92 L234.40,111.79 L235.02,111.67 L235.64,111.54 L236.26,111.41 L236.88,111.29 L237.50,111.16 L238.12,111.04 L238.74,110.92 L239.36,110.80 L239.98,110.68 L240.60,110.56 L241.22,110.44 L241.84,110.32 L242.46,110.21 L243.08,110.09 L243.70,109.98 L244.32,109.87 L244.94,109.76 L245.56,109.65 L246.18,109.54 L246.80,109.43 L247.42,109.33 L248.04,109.22 L248.66,109.12 L249.28,109.02 L249.90,108.92 L250.52,108.82 L251.14,108.72 L251.76,108.63 L252.38,108.53 L253.00,108.44 L253.62,108.35 L254.24,108.26 L254.86,108.17 L255.49,108.09 L256.11,108.00 L256.73,107.92 L257.35,107.84 L257.97,107.76 L258.59,107.68 L259.21,107.61 L259.83,107.53 L260.45,107.46 L261.07,107.39 L261.69,107.32 L262.31,107.26 L262.93,107.19 L263.55,107.13 L264.17,107.07 L264.79,107.01 L265.41,106.96 L266.03,106.90 L266.65,106.85 L267.27,106.80 L267.89,106.76 L268.51,106.71 L269.13,106.67 L269.75,106.63 L270.37,106.60 L270.99,106.56 L271.61,106.53 L272.23,106.50 L272.85,106.48 L273.47,106.45 L274.09,106.43 L274.71,106.41 L275.33,106.40 L275.95,106.39 L276.57,106.38 L277.19,106.37 L277.81,106.37 L278.43,106.37 L279.05,106.37 L279.67,106.38 L280.29,106.39 L280.91,106.40 L281.53,106.42 L282.15,106.44 L282.77,106.46 L283.39,106.49 L284.01,106.52 L284.63,106.55 L285.25,106.59 L285.87,106.63 L286.49,106.68 L287.11,106.73 L287.73,106.78 L288.35,106.84 L288.97,106.90 L289.59,106.97 L290.21,107.04 L290.83,107.12 L291.45,107.20 L292.07,107.28 L292.69,107.37 L293.31,107.46 L293.93,107.56 L294.55,107.66 L295.17,107.77 L295.79,107.89 L296.41,108.01 L297.03,108.13 L297.65,108.26 L298.27,108.39 L298.89,108.53 L299.51,108.68 L300.13,108.83 L300.75,108.99 L301.37,109.15 L301.99,109.32 L302.61,109.50 L303.23,109.68 L303.85,109.87 L304.47,110.06 L305.09,110.26 L305.71,110.47 L306.33,110.68 L306.95,110.91 L307.57,111.13 L308.19,111.37 L308.81,111.61 L309.43,111.86 L310.05,112.12 L310.67,112.39 L311.29,112.66 L311.91,112.94 L312.53,113.23 L313.15,113.53 L313.77,113.83 L314.39,114.15 L315.01,114.47 L315.63,114.80 L316.25,115.14 L316.87,115.49 L317.50,115.85 L318.12,116.22 L318.74,116.60 L319.36,116.99 L319.98,117.39 L320.60,117.80 L321.22,118.21 L321.84,118.64 L322.46,119.08 L323.08,119.53 L323.70,119.99 L324.32,120.47 L324.94,120.95 L325.56,121.45 L326.18,121.95 L326.80,122.47 L327.42,123.01 L328.04,123.55 L328.66,124.11 L329.28,124.68 L329.90,125.26 L330.52,125.86 L331.14,126.47 L331.76,127.09 L332.38,127.73 L333.00,128.38 L333.62,129.05 L334.24,129.73 L334.86,130.42 L335.48,131.13 L336.10,131.86 L336.72,132.60 L337.34,133.36 L337.96,134.14 L338.58,134.93 L339.20,135.74 L339.82,136.57 L340.44,137.41 L341.06,138.27 L341.68,139.15 L342.30,140.05 L342.92,140.97 L343.54,141.91 L344.16,142.86 L344.78,143.84 L345.40,144.83 L346.02,145.85 L346.64,146.89 L347.26,147.95 L347.88,149.03 L348.50,150.13 L349.12,151.25 L349.74,152.40 L350.36,153.57 L350.98,154.77 L351.60,155.98 L352.22,157.23 L352.84,158.50 L353.46,159.79 L354.08,161.11 L354.70,162.45 L355.32,163.82 L355.94,165.22 L356.56,166.65 L357.18,168.10 L357.80,169.58 L358.42,171.09 L359.04,172.63 L359.66,174.21 L360.28,175.81 L360.90,177.44 L361.52,179.10 L362.14,180.80 L362.76,182.53 L363.38,184.29 L364.00,186.09 L364.62,187.92 L365.24,189.78 L365.86,191.69 L366.48,193.62 L367.10,195.60 L367.72,197.61 L368.34,199.66 L368.96,201.75 L369.58,203.88 L370.20,206.05 L370.82,208.26 L371.44,210.51 L372.06,212.80 L372.68,215.14 L373.30,217.52 L373.92,219.95 L374.54,222.42 L375.16,224.94 L375.78,227.50 L376.40,230.11 L377.02,232.78 L377.64,235.49 L378.26,238.25 L378.88,241.06 L379.50,243.92 L380.13,246.84 L380.75,249.81 L381.37,252.84 L381.99,255.92 L382.61,259.06 L383.23,262.26 L383.85,265.52 L384.47,268.83 L385.09,272.21 L385.71,275.65 L386.33,279.15 L386.64,280.97" stroke="#00ff00" stroke-width="2" stroke-dasharray="2.65,4.222" stroke-dashoffset="1.2"/>
</g>
<g fill="none" stroke="#000" stroke-width="1.65" stroke-linecap="round" stroke-linejoin="round">
<path transform="translate(29.78,296.4)" d="M1.56,-3.51 L8.38,-3.51 M12.09,-8.19 L16.38,-8.19 L14.04,-5.07 L15.21,-5.07 L15.99,-4.68 L16.38,-4.29 L16.77,-3.12 L16.77,-2.34 L16.38,-1.17 L15.60,-0.39 L14.43,0.00 L13.26,0.00 L12.09,-0.39 L11.70,-0.78 L11.31,-1.56"/>
<path transform="translate(112.46,296.4)" d="M1.56,-3.51 L8.38,-3.51 M11.70,-6.24 L11.70,-6.63 L12.09,-7.41 L12.48,-7.80 L13.26,-8.19 L14.82,-8.19 L15.60,-7.80 L15.99,-7.41 L16.38,-6.63 L16.38,-5.85 L15.99,-5.07 L15.21,-3.90 L11.31,0.00 L16.77,0.00"/>
<path transform="translate(195.14,296.4)" d="M1.56,-3.51 L8.38,-3.51 M12.48,-6.63 L13.26,-7.02 L14.43,-8.19 L14.43,0.00"/>
<path transform="translate(282.89,296.4)" d="M3.51,-8.19 L2.34,-7.80 L1.56,-6.63 L1.17,-4.68 L1.17,-3.51 L1.56,-1.56 L2.34,-0.39 L3.51,0.00 L4.29,0.00 L5.46,-0.39 L6.24,-1.56 L6.63,-3.51 L6.63,-4.68 L6.24,-6.63 L5.46,-7.80 L4.29,-8.19 L3.51,-8.19"/>
<path transform="translate(365.57,296.4)" d="M2.34,-6.63 L3.12,-7.02 L4.29,-8.19 L4.29,0.00"/>

<path transform="translate(29.2,8.40) rotate(-90)" d="M3.51,-8.19 L2.34,-7.80 L1.56,-6.63 L1.17,-4.68 L1.17,-3.51 L1.56,-1.56 L2.34,-0.39 L3.51,0.00 L4.29,0.00 L5.46,-0.39 L6.24,-1.56 L6.63,-3.51 L6.63,-4.68 L6.24,-6.63 L5.46,-7.80 L4.29,-8.19 L3.51,-8.19"/>
<path transform="translate(29.2,74.93) rotate(-90)" d="M1.56,-3.51 L8.38,-3.51 M11.70,-6.24 L11.70,-6.63 L12.09,-7.41 L12.48,-7.80 L13.26,-8.19 L14.82,-8.19 L15.60,-7.80 L15.99,-7.41 L16.38,-6.63 L16.38,-5.85 L15.99,-5.07 L15.21,-3.90 L11.31,0.00 L16.77,0.00"/>
<path transform="translate(29.2,136.39) rotate(-90)" d="M1.56,-3.51 L8.38,-3.51 M15.21,-8.19 L11.31,-2.73 L17.16,-2.73 M15.21,-8.19 L15.21,0.00"/>
<path transform="translate(29.2,197.85) rotate(-90)" d="M1.56,-3.51 L8.38,-3.51 M16.38,-7.02 L15.99,-7.80 L14.82,-8.19 L14.04,-8.19 L12.87,-7.80 L12.09,-6.63 L11.70,-4.68 L11.70,-2.73 L12.09,-1.17 L12.87,-0.39 L14.04,0.00 L14.43,0.00 L15.60,-0.39 L16.38,-1.17 L16.77,-2.34 L16.77,-2.73 L16.38,-3.90 L15.60,-4.68 L14.43,-5.07 L14.04,-5.07 L12.87,-4.68 L12.09,-3.90 L11.70,-2.73"/>
<path transform="translate(29.2,259.31) rotate(-90)" d="M1.56,-3.51 L8.38,-3.51 M13.26,-8.19 L12.09,-7.80 L11.70,-7.02 L11.70,-6.24 L12.09,-5.46 L12.87,-5.07 L14.43,-4.68 L15.60,-4.29 L16.38,-3.51 L16.77,-2.73 L16.77,-1.56 L16.38,-0.78 L15.99,-0.39 L14.82,0.00 L13.26,0.00 L12.09,-0.39 L11.70,-0.78 L11.31,-1.56 L11.31,-2.73 L11.70,-3.51 L12.48,-4.29 L13.65,-4.68 L15.21,-5.07 L15.99,-5.46 L16.38,-6.24 L16.38,-7.02 L15.99,-7.80 L14.82,-8.19 L13.26,-8.19"/>

</g>
<g class="al">
<text x="192.6" y="322.6" letter-spacing="1.0">log</text>
<text x="223.9" y="322.5" class="cap" textLength="8.3" lengthAdjust="spacingAndGlyphs">L</text>
<text x="240.4" y="322.5" class="cap" textLength="8.3" lengthAdjust="spacingAndGlyphs">L</text>
</g>
<g fill="none" stroke="#000" stroke-width="1.5" stroke-linecap="round">
<path d="M222.3,312.2 Q218.4,318.5 222.3,324.9"/>
<path d="M253.6,312.2 Q257.6,318.5 253.6,324.9"/>
<path d="M232.6,324.8 L240.2,312.2" stroke-width="1.4"/>
<path d="M249.7,321.8 v3.3 M248.2,322.6 l3,1.7 M251.2,322.6 l-3,1.7" stroke-width="1.15"/>
</g>
<g class="al">
<text transform="translate(10.7,159.8) rotate(-90)" letter-spacing="1.0">log</text>
</g>
<path transform="translate(10.5,133.6) rotate(-90)" d="M0.3,-3.9 Q0.9,-5.0 2.2,-5.0 L6.2,-5.5 M3.4,-5.1 L4.5,-0.3" fill="none" stroke="#000" stroke-width="1.5" stroke-linecap="round" stroke-linejoin="round"/>

</svg>
</body></html>
